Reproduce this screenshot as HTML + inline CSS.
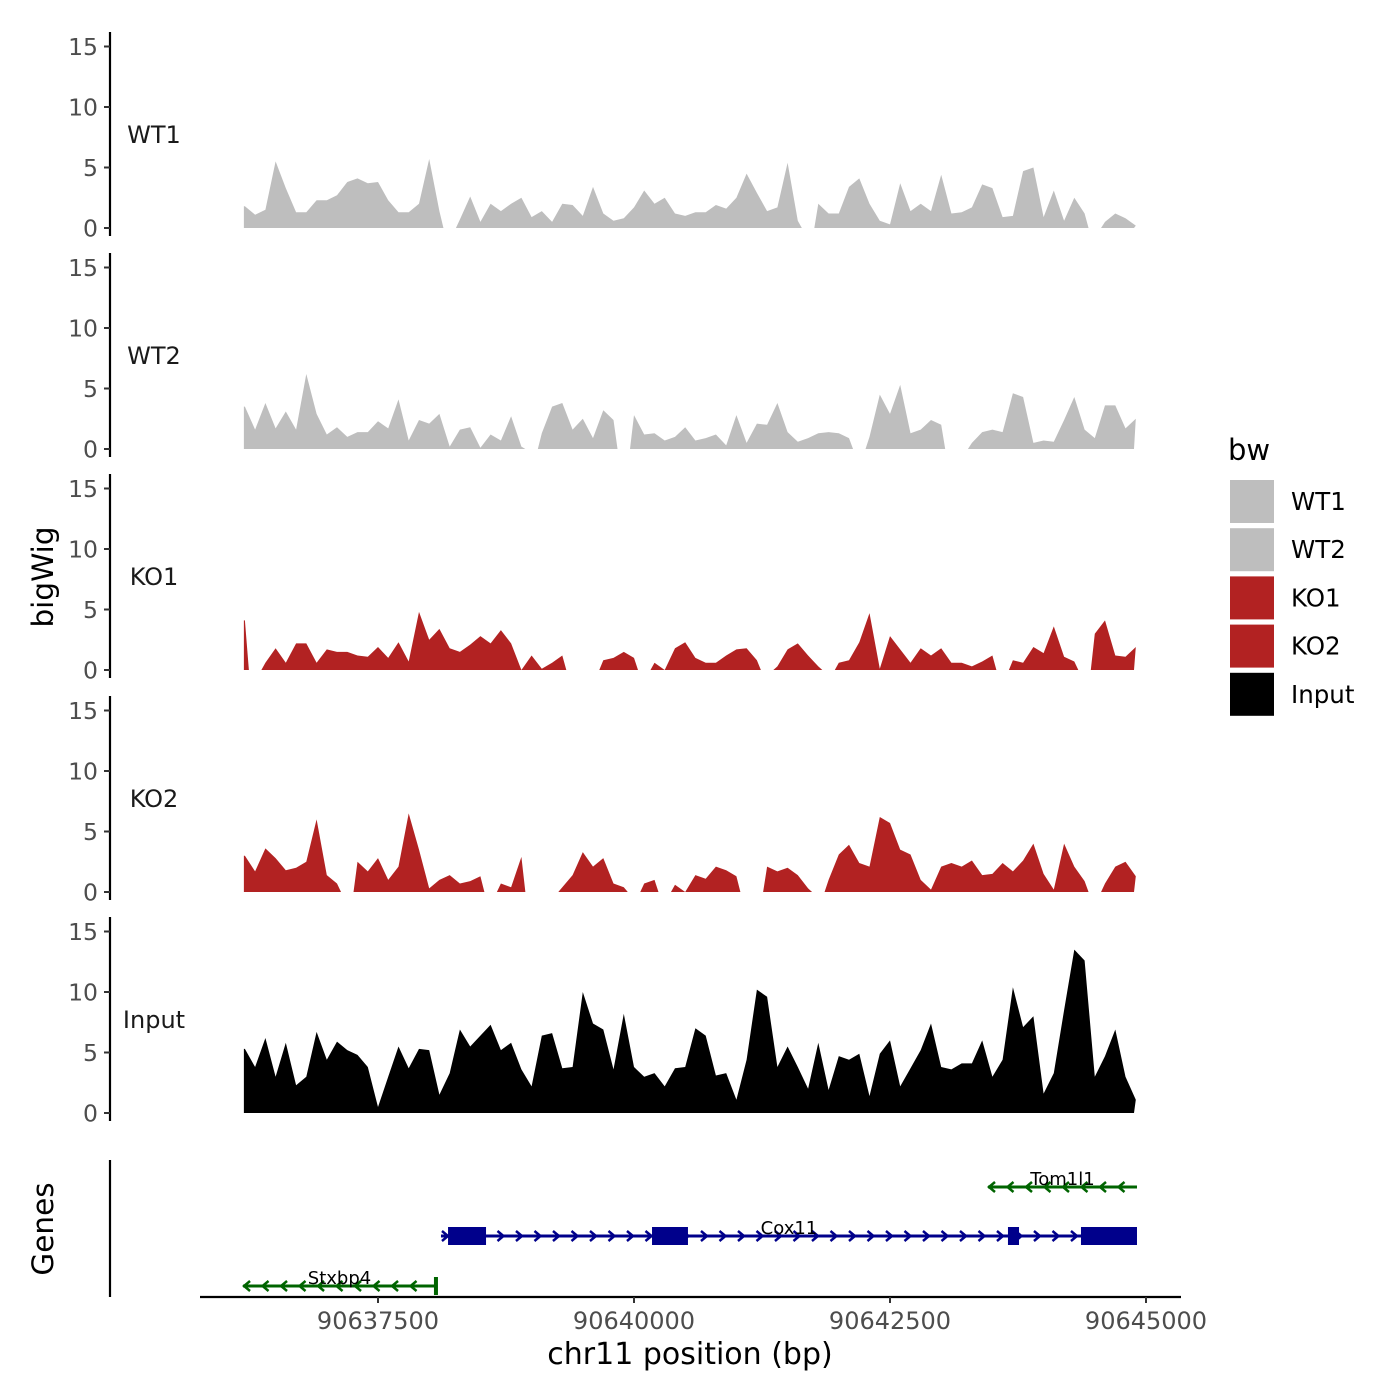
<!DOCTYPE html>
<html><head><meta charset="utf-8">
<style>
html,body{margin:0;padding:0;background:#fff;}
svg{display:block;font-family:"DejaVu Sans","Liberation Sans",sans-serif;}
</style></head>
<body>
<svg id="chart" width="1400" height="1400" viewBox="0 0 1400 1400" xmlns="http://www.w3.org/2000/svg">
  <rect width="1400" height="1400" fill="#fff"/>
  <g id="tracks"></g>
  <g id="genes"></g>
  <text transform="translate(53,577) rotate(-90)" text-anchor="middle" font-size="29.5" fill="#000">bigWig</text>
  <text transform="translate(53,1229) rotate(-90)" text-anchor="middle" font-size="29.5" fill="#000">Genes</text>
  <text x="690" y="1364" text-anchor="middle" font-size="30" fill="#000">chr11 position (bp)</text>
  <g id="legend">
    <text x="1228" y="460" font-size="29" fill="#000">bw</text>
  </g>
</svg>
<script>
const binStart = 90636200;
const binSize = 100;
const trackNames = ["WT1","WT2","KO1","KO2","Input"];
const trackColors = ["#bebebe","#bebebe","#b22222","#b22222","#000000"];
const yTicks = [0,5,10,15];
const xTicks = [90637500,90640000,90642500,90645000];
const wt1 = [1.8,1.1,1.5,5.5,3.3,1.3,1.3,2.3,2.3,2.7,3.8,4.1,3.7,3.8,2.3,1.3,1.3,2,5.7,1.4,null,0.7,2.6,0.5,2,1.4,2,2.5,0.9,1.4,0.5,2,1.9,1,3.4,1.2,0.6,0.8,1.7,3.1,2,2.5,1.2,1,1.3,1.3,1.9,1.6,2.5,4.5,2.9,1.4,1.7,5.4,0.6,null,2,1.2,1.2,3.4,4.1,2,0.6,0.3,3.7,1.4,2,1.4,4.4,1.2,1.3,1.7,3.6,3.3,0.9,1,4.7,5,0.9,3.1,0.6,2.5,1.2,null,0.5,1.2,0.8,0.2];
const wt2 = [3.5,1.6,3.8,1.7,3.1,1.6,6.2,2.9,1.2,1.8,1,1.4,1.4,2.3,1.7,4.1,0.7,2.4,2.1,2.9,0.2,1.6,1.8,0.1,1.2,0.7,2.7,0.2,null,1.3,3.5,3.8,1.6,2.5,0.9,3.2,2.4,null,2.8,1.2,1.3,0.7,1,1.8,0.7,0.9,1.2,0.3,2.8,0.5,2.1,2,3.8,1.4,0.6,0.9,1.3,1.4,1.3,0.9,null,1,4.5,2.9,5.3,1.3,1.6,2.4,2,null,null,0.5,1.4,1.6,1.4,4.6,4.3,0.5,0.7,0.6,2.4,4.3,1.6,0.9,3.6,3.6,1.7,2.5];
const ko1 = [4.1,null,0.6,1.8,0.6,2.2,2.2,0.6,1.7,1.5,1.5,1.2,1.1,1.9,1,2.3,0.7,4.8,2.5,3.4,1.8,1.5,2.1,2.8,2.2,3.3,2.2,0,1.2,0.1,0.6,1.2,null,null,null,0.8,1,1.5,1,null,0.6,0,1.8,2.3,1,0.6,0.6,1.2,1.7,1.8,0.8,null,0.3,1.7,2.2,1.2,0.3,null,0.6,0.8,2.3,4.7,0.1,2.8,1.7,0.6,1.8,1.2,1.8,0.6,0.6,0.3,0.7,1.2,null,0.8,0.6,1.9,1.4,3.6,1.1,0.7,null,3.0,4.1,1.2,1.1,1.9];
const ko2 = [3,1.7,3.6,2.8,1.8,2,2.5,6,1.4,0.7,null,2.5,1.7,2.8,1,2.1,6.5,3.5,0.3,1,1.4,0.7,0.9,1.3,null,0.7,0.4,2.9,null,null,null,0.4,1.4,3.3,2.1,2.8,0.7,0.4,null,0.7,1,null,0.6,0,1.4,1.1,2.1,1.8,1.3,null,null,2.1,1.7,2,1.4,0.3,null,1,3.1,3.9,2.4,2.1,6.2,5.7,3.5,3.1,1,0.2,2.1,2.4,2.1,2.6,1.4,1.5,2.4,1.7,2.6,4,1.5,0.2,4.0,2.1,0.9,null,0.7,2.1,2.5,1.3];
const input = [5.3,3.8,6.2,3,5.8,2.3,3,6.7,4.4,5.9,5.2,4.8,3.8,0.5,3,5.5,3.7,5.3,5.2,1.5,3.3,6.9,5.5,6.4,7.3,5.2,5.8,3.6,2.2,6.4,6.6,3.7,3.8,10,7.4,6.9,3.6,8.2,3.8,3,3.3,2.2,3.7,3.8,7,6.4,3.1,3.3,1.1,4.4,10.2,9.6,3.8,5.5,3.8,2,5.8,1.9,4.7,4.4,4.9,1.4,4.9,6,2.2,3.7,5.2,7.4,3.8,3.6,4.1,4.1,6,3,4.4,10.4,7.1,8,1.6,3.3,8.5,13.5,12.6,3,4.7,6.9,3,1.1];
const series = [wt1,wt2,ko1,ko2,input];
const geneNames = ["Tom1l1","Cox11","Stxbp4"];
const geneStarts = [90643457,90638115,90636182];
const geneEnds = [90644912,90644912,90638066];
const geneStrands = ["-","+","-"];
const geneColors = ["#006400","#00008b","#006400"];
const cox11ExonStarts = [90638184,90640176,90643652,90644365];
const cox11ExonEnds = [90638555,90640527,90643760,90644912];

const NS="http://www.w3.org/2000/svg";
function mk(tag, attrs, parent){const e=document.createElementNS(NS,tag);for(const k in attrs)e.setAttribute(k,attrs[k]);parent.appendChild(e);return e;}
function xScale(bp){return 378+(bp-90637500)*0.1024;}
const panelZero=[228,449,670,892,1113];
const unit=12.1;
function yScale(p,v){return panelZero[p]-v*unit;}

const tracks=document.getElementById('tracks');
series.forEach((vals,p)=>{
  const g=mk('g',{},tracks);
  
  
  const ax=mk('line',{x1:110,x2:110,y1:panelZero[p]-196,y2:panelZero[p]+8,stroke:'#000','stroke-width':2.2},g);
  
  
  yTicks.forEach(t=>{
    const y=yScale(p,t);
    const tk=mk('line',{x1:104,x2:110,y1:y,y2:y,stroke:'#333','stroke-width':2},g);
    
    
    const tl=mk('text',{x:98,y:y+8.5,'text-anchor':'end','font-size':23.5,fill:'#4d4d4d'},g);
    tl.textContent=t;
    
    
  });
  const lab=mk('text',{x:154,y:panelZero[p]-85,'text-anchor':'middle','font-size':24,fill:'#1a1a1a'},g);
  lab.textContent=trackNames[p];
  
  
  let seg=[];
  const segs=[];
  vals.forEach((v,i)=>{
    if(v===null){if(seg.length)segs.push(seg);seg=[];}
    else seg.push([xScale(binStart+binSize*i),yScale(p,v)]);
  });
  if(seg.length)segs.push(seg);
  segs.forEach((s,k)=>{
    const first = s[0][0] < 250;
    const last = s[s.length-1][0] > 1125;
    const x0=s[0][0]-(first?1:4), x1=s[s.length-1][0]+(last?0:4);
    let d='M'+x0+','+panelZero[p];
    if(first) d+=' L'+x0+','+s[0][1];
    s.forEach(pt=>{d+=' L'+pt[0].toFixed(1)+','+pt[1].toFixed(1);});
    if(last) d+=' L'+(1134)+','+panelZero[p];
    d+=' L'+x1+','+panelZero[p]+' Z';
    const a=mk('path',{d:d,fill:trackColors[p]},g);
    
    
  });
});

const gp=document.getElementById('genes');
const gax=mk('line',{x1:110,x2:110,y1:1160,y2:1297,stroke:'#000','stroke-width':2.2},gp);


const xax=mk('line',{x1:200,x2:1181,y1:1297,y2:1297,stroke:'#000','stroke-width':2.2},gp);


xTicks.forEach(t=>{
  const x=xScale(t);
  const tk=mk('line',{x1:x,x2:x,y1:1297,y2:1303,stroke:'#333','stroke-width':2},gp);
  
  
  const tl=mk('text',{x:x,y:1329,'text-anchor':'middle','font-size':24,fill:'#4d4d4d'},gp);
  tl.textContent=t;
  
  
});
const geneY=[1187,1236,1286];
geneNames.forEach((n,i)=>{
  const g=mk('g',{},gp);
  
  
  const xs=xScale(geneStarts[i]), xe=xScale(geneEnds[i]), y=geneY[i], c=geneColors[i];
  mk('line',{x1:xs,x2:xe,y1:y,y2:y,stroke:c,'stroke-width':3},g);
  for(let x=xs+4;x<xe-4;x+=18.5){
    const d=geneStrands[i]==='+'?`M${x-3},${y-5} L${x+3},${y} L${x-3},${y+5}`:`M${x+3},${y-5} L${x-3},${y} L${x+3},${y+5}`;
    mk('path',{d:d,stroke:c,'stroke-width':2.5,fill:'none'},g);
  }
  if(n==="Cox11"){
    cox11ExonStarts.forEach((s,k)=>{
      const ex=mk('rect',{x:xScale(s),y:y-9,width:xScale(cox11ExonEnds[k])-xScale(s),height:18,fill:c},g);
      
      
    });
  }
  if(n==="Stxbp4"){mk('rect',{x:xe-2,y:y-9,width:4,height:18,fill:c},g);}
  const lb=mk('text',{x:(xs+xe)/2,y:y-2,'text-anchor':'middle','font-size':18,fill:'#000'},g);
  lb.textContent=n;
  
  
});

const lg=document.getElementById('legend');
trackNames.forEach((n,i)=>{
  const y=480+i*48.2;
  const r=mk('rect',{x:1230,y:y,width:44,height:43,fill:trackColors[i]},lg);
  
  
  const t=mk('text',{x:1291,y:y+30,'font-size':24.5,fill:'#000'},lg);
  t.textContent=n;
  
  
});
</script>
</body></html>
